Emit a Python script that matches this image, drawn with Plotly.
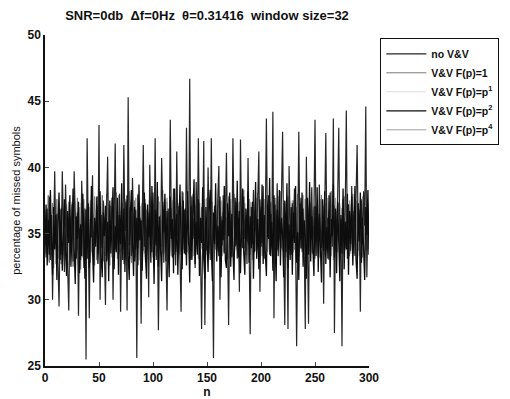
import plotly.graph_objects as go

n_values = list(range(0, 301))

no_vv = [
35.5,33.2,36.9,34.1,37.8,33.0,36.4,30.0,35.1,39.7,
34.2,36.5,32.8,29.5,35.9,33.4,39.7,34.6,32.1,38.7,
35.0,33.7,29.2,36.3,34.5,37.2,32.9,39.7,35.8,33.1,
36.6,28.8,35.4,33.0,39.0,35.6,32.4,36.9,25.5,42.2,
33.8,28.6,36.1,34.7,39.4,32.6,35.9,34.3,37.1,33.5,
43.2,30.0,36.4,33.9,37.5,34.0,29.6,36.8,40.8,33.2,
36.0,34.4,37.7,30.0,35.3,41.8,33.7,36.9,34.2,38.0,
29.1,35.6,33.8,41.7,35.2,37.4,29.2,45.3,34.1,37.0,
33.3,39.2,35.7,32.9,36.8,25.6,37.9,34.5,36.2,28.2,
35.8,41.7,34.0,37.3,33.1,36.7,30.2,40.2,35.4,33.6,
38.1,34.2,42.2,33.0,36.6,27.7,35.1,33.9,40.7,35.5,
32.8,37.6,34.4,29.2,36.9,34.0,43.6,35.3,33.2,38.4,
35.9,32.6,41.2,34.8,37.1,33.5,29.1,38.2,35.0,36.8,
33.4,43.0,35.6,34.1,46.7,33.0,37.8,34.6,36.2,32.4,
38.9,34.7,42.2,35.1,33.3,27.8,36.5,42.0,28.1,35.9,
33.7,40.0,35.2,33.0,42.2,34.9,25.6,37.1,35.4,33.6,
37.7,40.1,30.0,36.3,34.1,37.9,33.5,36.0,41.1,34.5,
28.1,36.7,35.0,33.2,42.2,35.8,34.0,37.4,33.1,36.2,
30.6,42.1,35.4,33.9,37.8,34.6,36.1,32.7,40.7,35.3,
27.4,37.0,34.2,38.3,33.6,36.4,34.9,37.6,41.2,30.6,
36.8,34.3,38.6,33.1,36.2,43.7,34.7,37.9,33.4,36.5,
35.1,44.2,28.6,37.2,34.0,38.8,33.3,36.1,34.6,38.0,
42.7,33.9,28.1,36.6,34.8,27.8,40.1,35.5,33.4,37.3,
35.0,38.4,34.2,26.5,36.0,42.7,34.5,37.7,33.8,36.9,
34.1,27.8,40.8,35.6,28.2,37.4,34.9,38.5,33.5,36.3,
43.6,34.4,37.0,33.2,38.7,35.3,33.9,37.5,29.7,36.8,
42.6,34.6,36.2,33.0,38.1,35.7,34.0,43.7,27.5,36.4,
34.8,37.9,43.0,33.6,36.1,26.5,37.6,34.3,36.9,44.3,
33.1,37.2,35.4,33.7,38.6,34.5,36.7,33.3,37.8,41.7,
34.9,36.3,29.1,37.5,34.2,38.2,35.6,44.6,31.7,36.0,
34.7]

vv_f1 = [
36.2,33.5,35.1,37.9,32.8,35.6,33.9,37.3,32.4,36.0,
34.2,37.6,33.1,35.4,36.8,32.7,37.0,34.4,32.9,36.5,
35.3,32.6,37.4,33.8,36.1,34.0,32.5,37.2,35.0,33.3,
37.7,33.6,36.3,32.3,35.9,37.5,33.4,35.8,32.2,36.9,
34.5,37.0,32.8,35.5,36.6,33.2,37.8,34.9,33.0,36.7,
33.7,36.4,34.6,37.9,32.9,35.7,33.3,38.0,34.1,36.2,
32.6,37.1,35.2,33.5,36.9,34.3,38.1,33.1,35.8,37.4,
33.6,36.5,34.7,32.7,37.6,34.2,36.0,33.4,38.2,35.0,
32.8,36.3,34.9,37.5,33.2,35.6,38.0,33.9,36.1,34.4,
37.3,33.7,35.9,32.9,36.8,34.5,33.0,37.7,35.3,33.6,
36.6,34.8,37.2,33.3,35.4,37.8,33.8,36.4,34.0,38.3,
33.5,36.2,34.6,37.4,33.1,35.7,33.9,36.9,35.2,37.9,
33.4,36.0,34.1,37.3,33.6,35.8,36.7,33.2,38.1,34.7,
36.4,33.0,37.6,35.4,33.7,36.1,34.4,38.0,33.3,35.9,
37.2,34.2,36.5,33.5,35.6,37.0,34.8,33.1,36.8,34.0,
37.7,33.9,36.3,34.5,38.2,33.4,35.7,37.1,33.8,36.0,
34.3,37.5,33.2,35.9,36.6,33.6,37.3,34.9,36.2,33.0,
37.8,34.6,36.4,33.3,35.5,38.0,34.1,36.9,33.7,35.8,
37.4,33.5,36.1,34.7,38.3,33.9,35.3,36.8,34.2,37.6,
33.4,36.5,34.8,37.1,33.8,36.0,34.4,38.1,33.1,35.6,
37.0,34.0,36.7,33.6,35.2,37.9,34.3,36.3,33.5,37.4,
34.9,36.2,33.0,37.7,35.0,33.7,36.6,34.5,38.2,33.9,
35.9,37.3,33.2,36.4,34.6,37.8,33.4,35.6,36.9,34.1,
37.5,33.8,36.0,34.8,38.0,33.3,35.7,37.2,33.6,36.5,
34.0,37.6,33.9,36.1,35.1,38.1,33.5,36.8,34.7,37.0,
33.1,35.8,37.4,34.3,36.3,33.7,37.9,34.9,36.2,33.4,
35.5,37.7,34.2,36.6,33.8,38.2,34.5,35.9,37.1,33.6,
36.7,34.4,37.3,33.0,35.4,36.9,34.1,37.8,33.9,36.0,
34.8,37.2,33.3,36.5,34.6,38.0,33.5,36.2,34.0,37.5,
33.7,36.8,34.3,37.6,33.2,35.7,37.0,34.5,36.4,33.8,
36.1]

vv_p1 = [
35.0,33.7,36.4,34.3,37.0,33.6,35.8,36.9,33.4,35.5,
37.2,34.0,36.3,33.5,35.9,37.1,34.6,33.2,36.7,34.9,
33.6,37.0,35.1,34.2,36.9,33.3,35.6,34.5,37.4,35.2,
33.9,36.1,34.8,37.3,33.5,35.4,36.6,33.8,37.1,34.6,
36.0,33.7,37.2,35.3,33.4,36.5,34.1,36.8,33.6,35.9,
37.0,34.4,36.2,33.9,35.7,37.3,34.0,35.5,36.9,33.3,
35.8,34.7,37.1,33.8,36.4,35.0,33.5,36.7,34.2,37.5,
35.4,33.6,36.3,34.8,37.2,33.9,36.0,35.2,33.7,37.0,
34.4,36.6,33.2,35.9,36.8,34.1,37.4,33.5,35.6,36.2,
33.8,37.1,34.6,36.0,33.4,35.8,37.5,33.9,36.4,34.3,
37.0,33.6,35.7,34.9,37.3,33.5,36.1,35.0,33.3,36.8,
34.5,37.2,33.7,36.5,35.1,33.8,37.0,34.2,36.3,33.9,
35.6,37.4,33.4,36.0,34.8,33.6,37.1,35.5,33.9,36.6,
34.1,36.8,35.3,33.5,37.5,34.4,36.2,33.7,35.8,37.0,
33.6,35.4,36.9,34.0,37.3,33.8,35.7,36.4,33.4,36.1,
36.3,34.6,37.2,33.6,35.9,36.7,33.9,37.0,34.5,35.3,
33.8,36.6,34.3,37.4,35.2,33.4,36.0,34.8,37.1,33.7,
36.4,34.2,33.9,36.9,34.5,37.2,33.6,35.8,34.0,37.3,
35.1,33.5,36.5,34.7,37.0,33.8,36.3,33.4,35.9,36.7,
34.3,37.1,33.7,35.6,36.8,34.0,33.6,36.2,34.9,37.4,
33.5,36.1,34.6,37.2,33.9,35.4,36.9,33.7,36.3,34.4,
36.7,33.6,35.8,37.3,34.2,33.9,36.5,34.7,37.0,33.8,
36.2,34.5,37.1,33.4,35.9,36.6,34.0,37.4,33.6,35.7,
34.9,37.2,34.3,33.7,36.8,33.5,37.0,35.6,33.9,36.1,
35.3,33.8,37.3,34.1,36.0,33.6,35.5,37.1,33.4,36.5,
36.4,34.2,36.9,34.7,37.2,33.9,36.3,33.5,35.8,37.0,
34.6,36.1,33.6,37.4,34.3,36.5,33.8,36.8,34.0,35.6,
33.9,37.1,34.5,35.7,37.3,33.4,36.6,34.9,33.7,36.7,
33.5,36.0,34.8,37.2,33.9,36.4,34.1,37.0,35.4,33.6,
37.0,34.0,35.6,36.8,33.7,37.4,33.5,35.9,36.2,34.6,
35.8]

vv_p2 = [
34.1,37.2,32.6,36.0,33.4,38.3,34.7,31.9,37.0,33.8,
36.4,31.5,35.8,38.1,33.0,36.9,32.2,35.5,37.6,33.6,
31.8,36.7,34.3,37.9,32.5,35.2,38.4,33.9,31.2,36.3,
34.6,37.4,32.0,35.7,33.3,38.0,34.9,31.6,36.8,33.1,
37.3,32.4,35.0,38.6,33.7,31.3,36.2,34.0,37.8,32.7,
35.4,38.2,33.2,31.7,36.6,34.8,37.1,32.9,35.9,31.4,
37.5,33.5,36.1,38.5,32.3,35.6,33.6,37.7,31.9,36.4,
34.2,38.8,33.0,36.9,32.1,35.3,37.9,33.4,31.5,36.5,
38.3,34.4,31.8,37.0,33.8,36.2,32.6,38.7,34.5,36.0,
32.2,35.8,38.1,33.3,31.6,37.2,34.7,36.6,32.8,38.6,
33.9,31.2,36.8,34.1,38.9,32.5,36.3,33.7,31.4,37.4,
35.1,38.0,32.9,36.7,33.2,31.7,37.8,34.6,36.1,32.0,
38.4,33.6,36.5,31.9,35.7,38.7,34.0,32.3,37.5,33.5,
36.9,32.6,38.2,34.9,31.3,37.1,33.0,36.4,39.1,32.7,
35.9,33.4,37.6,31.8,36.2,34.3,38.5,33.1,31.6,37.0,
34.7,32.1,36.8,38.3,33.8,31.4,36.6,34.2,38.8,32.9,
35.6,33.3,37.8,31.7,36.0,34.5,38.6,33.0,32.4,37.3,
34.8,38.1,32.5,36.5,33.7,31.5,37.7,34.1,39.0,33.2,
36.7,32.0,35.3,38.4,33.6,31.9,36.9,34.4,38.2,32.8,
36.3,33.9,37.4,31.6,35.8,38.9,33.1,36.1,32.3,37.6,
34.0,38.7,32.7,36.4,33.5,31.8,37.2,34.6,39.2,33.3,
35.9,32.2,37.9,34.2,31.4,36.8,33.8,38.3,32.6,36.2,
34.9,31.7,37.5,33.6,38.8,32.4,35.7,33.0,37.0,31.9,
36.6,34.3,38.6,32.8,35.1,31.5,37.3,33.9,38.1,32.5,
36.0,34.7,31.6,37.7,33.4,38.9,32.9,36.3,34.0,31.8,
37.1,33.3,38.5,32.1,36.5,34.5,31.3,37.6,33.7,38.2,
32.7,35.5,33.1,37.9,31.7,36.1,34.8,38.7,33.2,36.9,
32.0,37.4,34.1,31.4,36.4,33.5,38.4,32.3,35.9,33.8,
38.0,31.9,36.7,34.2,37.8,32.6,35.4,38.6,33.0,31.6,
37.3,34.4,38.1,32.8,36.2,33.6,31.5,37.0,34.9,38.3,
33.4]

vv_p4 = [
33.9,36.8,34.6,32.9,37.1,35.0,33.3,36.5,34.2,37.7,
32.7,35.9,34.1,37.3,33.5,35.7,33.0,36.9,34.8,33.6,
37.2,34.0,36.1,32.8,35.6,37.4,33.4,35.3,36.7,33.9,
35.1,32.5,37.0,34.7,36.3,33.2,37.6,34.4,33.8,36.2,
33.1,35.8,37.5,33.6,36.0,34.9,32.6,36.6,34.3,37.8,
36.2,33.4,35.5,34.0,37.4,33.7,36.8,34.5,33.0,37.2,
34.8,36.4,33.2,35.2,37.0,33.8,35.9,34.6,37.9,33.5,
36.7,34.1,37.3,35.4,33.9,37.5,33.3,36.3,34.9,33.1,
36.9,33.6,35.7,34.0,37.7,33.4,35.8,36.1,33.0,37.1,
34.5,36.0,33.5,37.6,35.2,33.8,36.6,34.2,37.3,35.0,
33.2,37.0,34.4,36.2,33.6,35.9,37.4,34.8,36.0,33.5,
37.1,34.3,35.8,37.7,34.6,36.6,34.0,33.3,37.5,35.1,
36.3,33.9,37.2,34.7,36.8,33.4,35.6,37.0,33.8,36.4,
34.2,37.5,33.6,36.1,35.3,37.9,33.2,34.9,36.5,33.7,
36.6,34.5,33.1,37.3,35.7,33.9,36.2,34.1,37.6,33.4,
35.6,36.9,33.5,35.1,34.0,37.4,34.4,33.2,36.7,34.8,
37.1,33.9,35.8,37.5,33.3,36.3,34.2,37.0,34.6,36.5,
33.1,35.7,37.6,34.3,36.8,33.6,35.4,33.8,37.2,34.7,
33.5,37.8,34.0,36.2,35.0,37.3,33.4,35.6,36.9,34.1,
37.4,35.2,33.0,36.6,34.8,33.7,37.7,35.3,36.0,33.9,
36.4,33.3,35.0,37.6,34.5,36.7,33.6,37.0,35.5,34.2,
37.3,33.8,35.9,33.4,36.5,34.1,37.8,35.2,33.5,37.1,
33.7,36.3,34.4,37.4,33.2,36.1,34.9,33.9,35.8,37.5,
33.6,35.5,33.1,37.0,34.6,36.8,33.8,35.7,34.3,37.9,
33.9,36.2,35.4,33.0,36.9,34.1,37.3,33.6,35.9,36.4,
34.7,37.0,33.5,36.1,33.2,37.6,34.0,35.6,37.1,34.4,
37.3,33.8,36.7,34.9,37.4,33.3,36.4,33.0,35.8,37.7,
35.2,33.6,36.2,37.1,34.2,36.9,33.4,35.3,34.5,37.2,
36.0,34.6,37.5,33.5,35.7,33.9,37.0,34.7,36.5,33.1,
35.9,33.3,36.6,35.0,37.8,34.0,36.3,33.7,35.5,37.3,
34.3]

series_names = ["no V&V", "V&V F(p)=1", "V&V F(p)=p<sup>1</sup>",
                "V&V F(p)=p<sup>2</sup>", "V&V F(p)=p<sup>4</sup>"]
series_values = [no_vv, vv_f1, vv_p1, vv_p2, vv_p4]
series_colors = ["#262626", "#7a7a7a", "#dcdcdc", "#0d0d0d", "#a0a0a0"]
series_widths = [1.2, 1.0, 1.0, 1.3, 1.0]
draw_order = [2, 1, 4, 0, 3]

x_ticks = [0, 50, 100, 150, 200, 250, 300]
y_ticks = [25, 30, 35, 40, 45, 50]

fig = go.Figure()
for i in draw_order:
    vals = series_values[i]
    fig.add_trace(go.Scatter(
        x=n_values[:len(vals)], y=vals, mode="lines", name=series_names[i],
        legendrank=i + 1,
        line=dict(color=series_colors[i], width=series_widths[i])))

font_family = "Liberation Sans, Arial, sans-serif"
fig.update_layout(
    width=510, height=399,
    margin=dict(l=45, r=141, t=35, b=33, autoexpand=False),
    paper_bgcolor="white", plot_bgcolor="white",
    font=dict(family=font_family, color="#111", size=11),
    title=dict(text="<b>SNR=0db  Δf=0Hz  θ=0.31416  window size=32</b>",
               x=207 / 510, xanchor="center",
               y=1 - 15 / 399, yanchor="middle",
               font=dict(size=13, family=font_family, color="#111")),
    showlegend=True,
    legend=dict(x=1.035, y=0.99, xanchor="left", yanchor="top",
                bordercolor="#111", borderwidth=1, bgcolor="white",
                font=dict(size=10.5, family=font_family, color="#111", weight="bold"),
                itemwidth=40, tracegroupgap=0, traceorder="normal"),
)
fig.update_xaxes(range=[0, 300], tickvals=x_ticks, ticks="inside", ticklen=4,
                 showline=True, linecolor="#111", linewidth=1.5,
                 showgrid=False, zeroline=False,
                 tickfont=dict(size=12, family=font_family, weight="bold"),
                 title=dict(text="<b>n</b>", standoff=5, font=dict(size=12)))
fig.update_yaxes(range=[25, 50], tickvals=y_ticks, ticks="inside", ticklen=4,
                 showline=True, linecolor="#111", linewidth=1.5,
                 showgrid=False, zeroline=False,
                 tickfont=dict(size=12, family=font_family, weight="bold"),
                 title=dict(text="percentage of missed symbols", standoff=5,
                            font=dict(size=11)))

fig.write_html("out.html")
